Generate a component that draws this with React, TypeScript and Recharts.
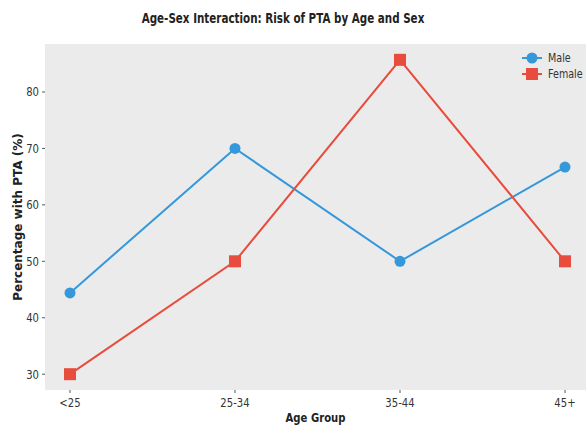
import { CartesianGrid, Line, LineChart, XAxis, YAxis } from "recharts"

const ageGroups = ["<25", "25-34", "35-44", "45+"]
const maleValues = [44.4, 70.0, 50.0, 66.7]
const femaleValues = [30.0, 50.0, 85.7, 50.0]
const yTicks = [30, 40, 50, 60, 70, 80]

const data = ageGroups.map((g, i) => ({ group: g, male: maleValues[i], female: femaleValues[i] }))

const BLUE = "#3498db"
const RED = "#e74c3c"
const FONT = "'DejaVu Sans', sans-serif"
const SQUEEZE = 0.84

const CircleDot = (props: any) => {
	const { cx, cy, index } = props
	if (cx == null || cy == null) return null
	return <circle key={`m-${index}`} cx={cx} cy={cy} r={5.5} fill={BLUE} />
}

const SquareDot = (props: any) => {
	const { cx, cy, index } = props
	if (cx == null || cy == null) return null
	return <rect key={`f-${index}`} x={cx - 6} y={cy - 6} width={12} height={12} fill={RED} />
}

// narrow text, the reference uses a condensed face
const NarrowText = ({ x, y, anchor, size, bold, squeeze = SQUEEZE, children }: any) => (
	<text
		transform={`translate(${x},${y}) scale(${squeeze},1)`}
		textAnchor={anchor}
		fontSize={size}
		fontWeight={bold ? "bold" : "normal"}
		fontFamily={FONT}
		fill={bold ? "#222" : "#333"}
	>
		{children}
	</text>
)

const XTick = (props: any) => {
	const { x, y, payload } = props
	return (
		<NarrowText x={x} y={y + 12} anchor="middle" size={12}>
			{payload.value}
		</NarrowText>
	)
}

const YTick = (props: any) => {
	const { x, y, payload } = props
	return (
		<NarrowText x={x - 1} y={y + 4.5} anchor="end" size={12}>
			{payload.value}
		</NarrowText>
	)
}

const LegendBox = () => (
	<svg width={66} height={36} style={{ position: "absolute", left: 520, top: 50 }}>
		<line x1={2} y1={8} x2={22} y2={8} stroke={BLUE} strokeWidth={2} />
		<circle cx={12} cy={8} r={5.5} fill={BLUE} />
		<NarrowText x={28} y={12} anchor="start" size={12} squeeze={0.8}>
			Male
		</NarrowText>
		<line x1={2} y1={24} x2={22} y2={24} stroke={RED} strokeWidth={2} />
		<rect x={6} y={18} width={12} height={12} fill={RED} />
		<NarrowText x={28} y={28} anchor="start" size={12} squeeze={0.8}>
			Female
		</NarrowText>
	</svg>
)

export default function App() {
	return (
		<div style={{ position: "absolute", left: 0, top: 0, width: 586, height: 425, overflow: "hidden", background: "#fff" }}>
			<LineChart width={586} height={425} data={data} margin={{ top: 44, right: 0, left: 0, bottom: 0 }}>
				<rect x={45} y={44} width={545} height={346} fill="#ebebeb" />
				<NarrowText x={283} y={23} anchor="middle" size={14} bold squeeze={0.74}>
					Age-Sex Interaction: Risk of PTA by Age and Sex
				</NarrowText>
				<CartesianGrid stroke="#ffffff" strokeWidth={1} />
				<XAxis
					dataKey="group"
					padding={{ left: 25, right: 21 }}
					tick={<XTick />}
					tickLine={{ stroke: "#555" }}
					tickSize={3}
					axisLine={false}
					height={35}
					label={{
						content: (p: any) => {
							const vb = p.viewBox
							return (
								<NarrowText x={vb.x + vb.width / 2} y={422} anchor="middle" size={12} bold>
									Age Group
								</NarrowText>
							)
						},
					}}
				/>
				<YAxis
					type="number"
					domain={[27.2, 88.5]}
					ticks={yTicks}
					allowDataOverflow
					tick={<YTick />}
					tickLine={{ stroke: "#555" }}
					tickSize={3}
					axisLine={false}
					width={45}
					label={{
						content: (p: any) => {
							const vb = p.viewBox
							const cy = vb.y + vb.height / 2
							return (
								<text
									transform={`translate(22,${cy}) rotate(-90)`}
									textAnchor="middle"
									fontSize={12}
									fontWeight="bold"
									fontFamily={FONT}
									fill="#222"
								>
									Percentage with PTA (%)
								</text>
							)
						},
					}}
				/>
				<Line
					dataKey="male"
					name="Male"
					stroke={BLUE}
					strokeWidth={2}
					dot={CircleDot}
					activeDot={false}
					isAnimationActive={false}
				/>
				<Line
					dataKey="female"
					name="Female"
					stroke={RED}
					strokeWidth={2}
					dot={SquareDot}
					activeDot={false}
					isAnimationActive={false}
				/>
			</LineChart>
			<LegendBox />
		</div>
	)
}
